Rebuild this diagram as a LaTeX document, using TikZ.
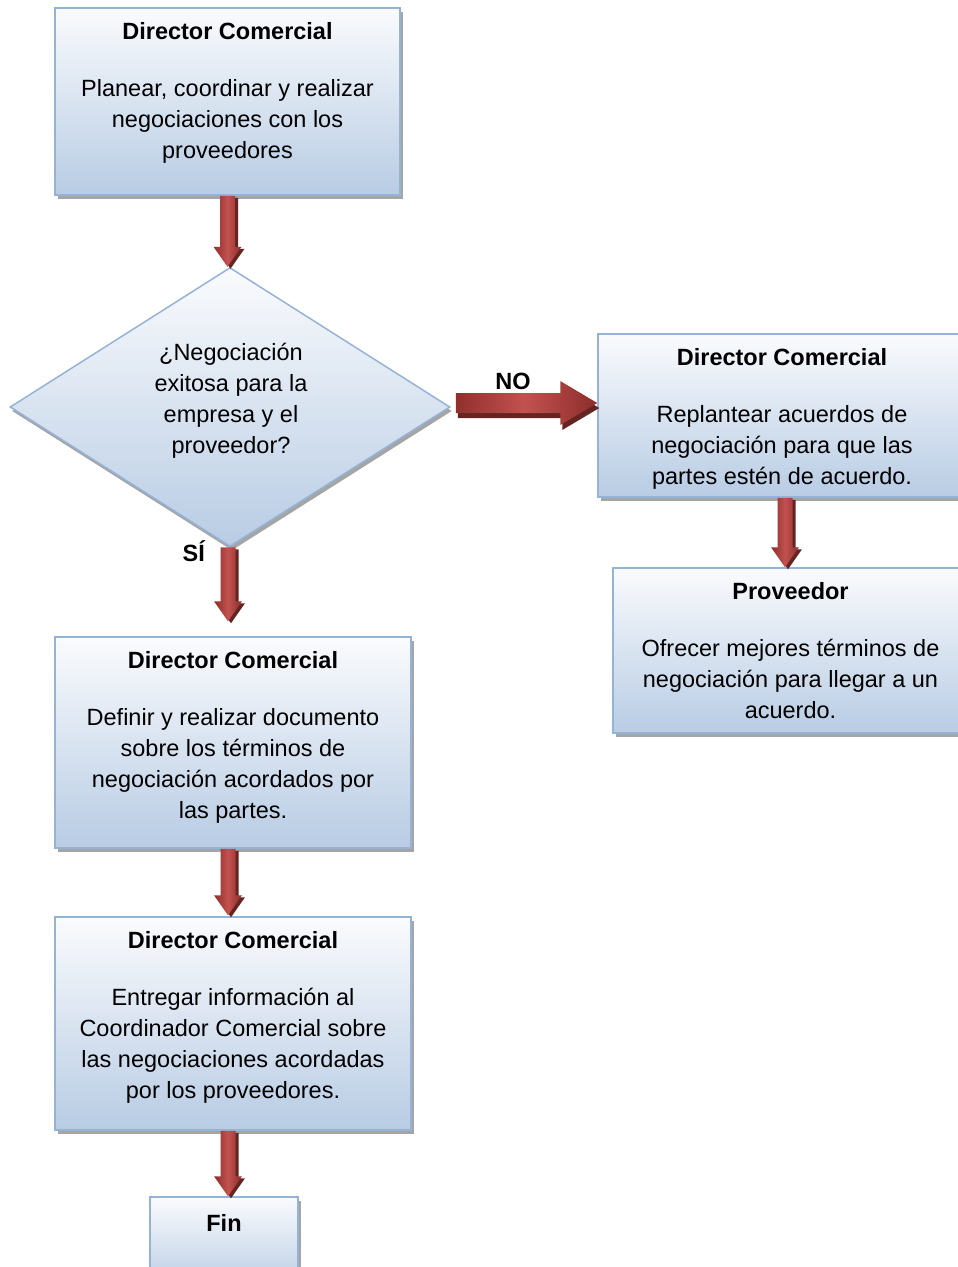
\documentclass[tikz,border=0pt]{standalone}
\usepackage{fontspec}
\setmainfont{Liberation Sans}
\usetikzlibrary{calc,shapes.geometric,shadows}

\definecolor{boxtop}{RGB}{250,251,253}
\definecolor{boxbot}{RGB}{184,204,228}
\definecolor{boxline}{RGB}{149,179,215}
\definecolor{shadowgray}{RGB}{165,165,165}
\definecolor{arrowdark}{RGB}{140,45,43}
\definecolor{arrowlight}{RGB}{194,82,79}
\definecolor{arrowshade}{RGB}{100,36,34}

\tikzset{
  panel/.style={rectangle, draw=boxline, line width=1.5pt,
    top color=boxtop, bottom color=boxbot, inner sep=0pt,
    drop shadow={shadow xshift=3pt, shadow yshift=-4pt, fill=shadowgray, opacity=1}},
  decision/.style={diamond, draw=boxline, line width=1.5pt,
    top color=boxtop, bottom color=boxbot, inner sep=0pt,
    drop shadow={shadow xshift=2pt, shadow yshift=-4pt, fill=shadowgray, opacity=1}},
  txt/.style={font=\fontsize{23.5}{31}\selectfont, align=center, inner sep=0pt},
  boxtext/.style={txt, anchor=north, yshift=-15pt},
  flowarrow/.style={left color=arrowdark, right color=arrowdark, middle color=arrowlight},
  vshadow/.style={general shadow={fill=arrowshade, shadow xshift=3pt, shadow yshift=-2pt}},
  hshadow/.style={general shadow={fill=arrowshade, shadow xshift=2pt, shadow yshift=-5pt}},
  % vertical block arrow: #1 = horizontal offset of the shaft, #2 = gap before the target
  blockv/.style 2 args={to path={
    ($(\tikztostart)+(#1-7.5,0)$)
    -- ($(\tikztostart |- \tikztotarget)+(#1-7.5,-#2-20)$)
    -- ($(\tikztostart |- \tikztotarget)+(#1-14,-#2-20)$)
    -- ($(\tikztostart |- \tikztotarget)+(#1,-#2)$)
    -- ($(\tikztostart |- \tikztotarget)+(#1+14,-#2-20)$)
    -- ($(\tikztostart |- \tikztotarget)+(#1+7.5,-#2-20)$)
    -- ($(\tikztostart)+(#1+7.5,0)$) -- cycle}},
  % horizontal block arrow: #1, #2 = offset of the start point
  blockh/.style 2 args={to path={
    ($(\tikztostart)+(#1,#2-10)$)
    -- ($(\tikztotarget |- \tikztostart)+(-37,#2-10)$)
    -- ($(\tikztotarget |- \tikztostart)+(-37,#2-22)$)
    -- ($(\tikztotarget |- \tikztostart)+(0,#2)$)
    -- ($(\tikztotarget |- \tikztostart)+(-37,#2+22)$)
    -- ($(\tikztotarget |- \tikztostart)+(-37,#2+10)$)
    -- ($(\tikztostart)+(#1,#2+10)$) -- cycle}}
}

\begin{document}
\begin{tikzpicture}[x=1pt,y=-1pt]
  \useasboundingbox (0,0) rectangle (958,1267);
  \clip (0,0) rectangle (958,1267);
  \fill[white] (0,0) rectangle (958,1267);

  % boxes
  \node[panel, minimum width=345, minimum height=187] (b1) at (227.5,101.5) {};
  \node[decision, minimum width=440, minimum height=279] (d) at (230,407) {};
  \node[panel, minimum width=368, minimum height=163] (r1) at (782,415.5) {};
  \node[panel, minimum width=355, minimum height=165] (p) at (790.5,650.5) {};
  \node[panel, minimum width=356, minimum height=211] (b3) at (233,742.5) {};
  \node[panel, minimum width=356, minimum height=213] (b4) at (233,1023.5) {};
  \node[panel, minimum width=148, minimum height=93] (fin) at (224,1243.5) {};

  % texts
  \node[boxtext] (t1) at (b1.north) {\textbf{Director Comercial}\\[26pt]Planear, coordinar y realizar\\negociaciones con los\\proveedores};
  \node[txt] (dt) at (231,401) {¿Negociación\\exitosa para la\\empresa y el\\proveedor?};
  \node[boxtext] (tr1) at (r1.north) {\textbf{Director Comercial}\\[26pt]Replantear acuerdos de\\negociación para que las\\partes estén de acuerdo.};
  \node[boxtext] (tp) at (p.north) {\textbf{Proveedor}\\[26pt]Ofrecer mejores términos de\\negociación para llegar a un\\acuerdo.};
  \node[boxtext] (t3) at (b3.north) {\textbf{Director Comercial}\\[26pt]Definir y realizar documento\\sobre los términos de\\negociación acordados por\\las partes.};
  \node[boxtext] (t4) at (b4.north) {\textbf{Director Comercial}\\[26pt]Entregar información al\\Coordinador Comercial sobre\\las negociaciones acordadas\\por los proveedores.};
  \node[txt, anchor=north, yshift=-18pt] (tf) at (fin.north) {\textbf{Fin}};

  % branch labels
  \node[txt] (lno) at (513,381) {\textbf{NO}};
  \node[txt] (lsi) at (194,551) {\textbf{SÍ}};

  % connectors
  \path[flowarrow, vshadow] (b1.south) to[blockv={0}{0}] (d.north);
  \path[flowarrow, hshadow] (d.east) to[blockh={5}{-4}] (r1.west);
  \path[flowarrow, vshadow] (r1.south) to[blockv={3}{0}] (p.north);
  \path[flowarrow, vshadow] (d.south) to[blockv={-2}{15}] (b3.north);
  \path[flowarrow, vshadow] (b3.south) to[blockv={-5}{1}] (b4.north);
  \path[flowarrow, vshadow] (b4.south) to[blockv={-5}{0}] (fin.north);
\end{tikzpicture}
\end{document}
